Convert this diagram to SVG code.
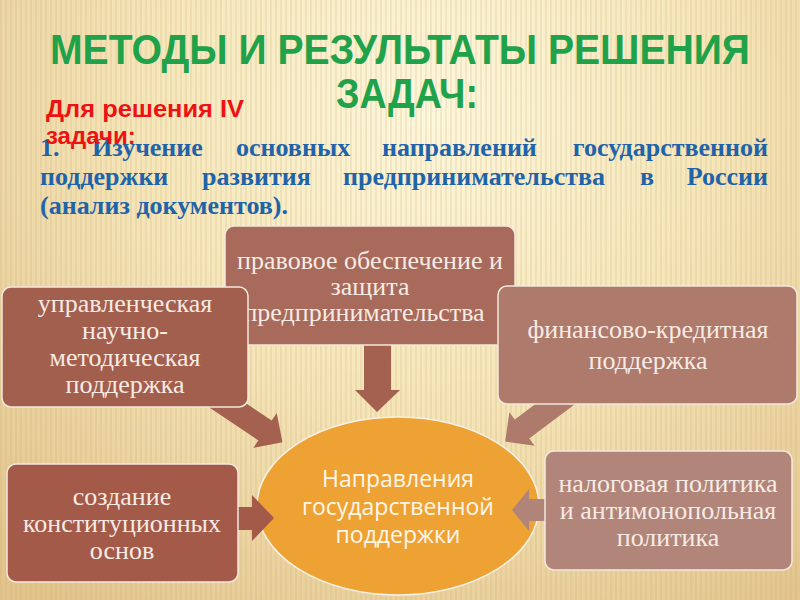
<svg xmlns="http://www.w3.org/2000/svg" width="800" height="600" viewBox="0 0 800 600">
<defs>
  <radialGradient id="bg" cx="430" cy="110" r="620" gradientUnits="userSpaceOnUse">
    <stop offset="0" stop-color="#fdf7dc"/>
    <stop offset="0.45" stop-color="#f6e7bb"/>
    <stop offset="1" stop-color="#e2c48c"/>
  </radialGradient>
  <pattern id="stripes" width="5" height="600" patternUnits="userSpaceOnUse">
    <rect x="0" y="0" width="2" height="600" fill="#c9a870" opacity="0.18"/>
  </pattern>
  <style>
    .box{stroke:#f4e8de;stroke-width:1.5}
    .arr{stroke:none}
    .bt{font-family:"Liberation Serif","Times New Roman",serif;font-size:26px;fill:#f6ebe4;text-anchor:middle}
    .et{font-family:"Open Sans","Noto Sans",sans-serif;font-size:23px;fill:#fff6ea;text-anchor:middle}
    .blue{font-family:"Liberation Serif","Times New Roman",serif;font-weight:bold;font-size:26px;fill:#2163a9}
    .end{text-anchor:end}
    .red{font-family:"Liberation Sans",Arial,sans-serif;font-weight:bold;font-size:24px;fill:#ee1111}
    .title{font-family:"Liberation Sans",Arial,sans-serif;font-weight:bold;font-size:42px;fill:#1fa24a;text-anchor:middle}
  </style>
</defs>
<rect width="800" height="600" fill="url(#bg)"/>
<rect width="800" height="600" fill="url(#stripes)"/>

<g id="title">
  <text class="title" x="400" y="64" textLength="700" lengthAdjust="spacingAndGlyphs">МЕТОДЫ И РЕЗУЛЬТАТЫ РЕШЕНИЯ</text>
  <text class="title" x="407" y="108" textLength="142" lengthAdjust="spacingAndGlyphs">ЗАДАЧ:</text>
</g>

<g id="body">
  <text class="blue" x="40" y="156">1.</text>
  <text class="blue" x="92" y="156">Изучение</text>
  <text class="blue" x="236" y="156">основных</text>
  <text class="blue" x="382" y="156">направлений</text>
  <text class="blue end" x="768" y="156">государственной</text>
  <text class="blue" x="40" y="185">поддержки</text>
  <text class="blue" x="202" y="185">развития</text>
  <text class="blue" x="343" y="185">предпринимательства</text>
  <text class="blue" x="640" y="185">в</text>
  <text class="blue end" x="768" y="185">России</text>
  <text class="blue" x="40" y="214">(анализ документов).</text>
</g>

<g id="subtitle">
  <text class="red" x="46" y="117" textLength="198" lengthAdjust="spacingAndGlyphs">Для решения IV</text>
  <text class="red" x="46" y="144">задачи:</text>
</g>

<g id="n-center">
  <ellipse cx="398" cy="506" rx="141" ry="89" fill="#eea233" stroke="#f7f0e6" stroke-width="1.5"/>
  <text class="et" x="398" y="487">Направления</text>
  <text class="et" x="398" y="515">государственной</text>
  <text class="et" x="398" y="543">поддержки</text>
</g>

<g id="connectors">
  <polygon class="arr" fill="#a5614f" points="364,340 391,340 391,390 400,390 377,412 355,390 364,390"/>
  <polygon class="arr" fill="#a5614f" points="220.1,385.9 271.7,420.6 276.7,413.1 282.5,442.2 253.3,447.9 258.3,440.4 206.7,405.7"/>
  <polygon class="arr" fill="#ad7a6c" points="577.2,402.6 529.2,438.6 534.6,445.8 505.2,441.6 509.4,412.2 514.8,419.4 562.8,383.4"/>
  <polygon class="arr" fill="#a35a48" points="230,507 252,507 252,495 274,518 252,541 252,530 230,530"/>
  <polygon class="arr" fill="#b08478" points="555,499 529,499 529,489 512,510 529,531 529,521 555,521"/>
</g>

<g id="n-legal">
  <rect class="box" x="225" y="226" width="290" height="119" rx="9" fill="#a76a5b"/>
  <text class="bt" x="370" y="269">правовое обеспечение и</text>
  <text class="bt" x="370" y="295">защита</text>
  <text class="bt" x="364" y="321">предпринимательства</text>
</g>

<g id="n-management">
  <rect class="box" x="2" y="287" width="246" height="120" rx="9" fill="#a35f4e"/>
  <text class="bt" x="125" y="312">управленческая</text>
  <text class="bt" x="125" y="339">научно-</text>
  <text class="bt" x="125" y="366">методическая</text>
  <text class="bt" x="125" y="393">поддержка</text>
</g>

<g id="n-finance">
  <rect class="box" x="498" y="286" width="299" height="118" rx="9" fill="#ae7a6c"/>
  <text class="bt" x="648" y="338">финансово-кредитная</text>
  <text class="bt" x="648" y="369">поддержка</text>
</g>

<g id="n-constitution">
  <rect class="box" x="7" y="464" width="231" height="118" rx="9" fill="#a35a48"/>
  <text class="bt" x="122" y="505">создание</text>
  <text class="bt" x="122" y="532">конституционных</text>
  <text class="bt" x="122" y="559">основ</text>
</g>

<g id="n-tax">
  <rect class="box" x="545" y="451" width="247" height="119" rx="9" fill="#b1857a"/>
  <text class="bt" x="668" y="492">налоговая политика</text>
  <text class="bt" x="668" y="519">и антимонопольная</text>
  <text class="bt" x="668" y="546">политика</text>
</g>
</svg>
